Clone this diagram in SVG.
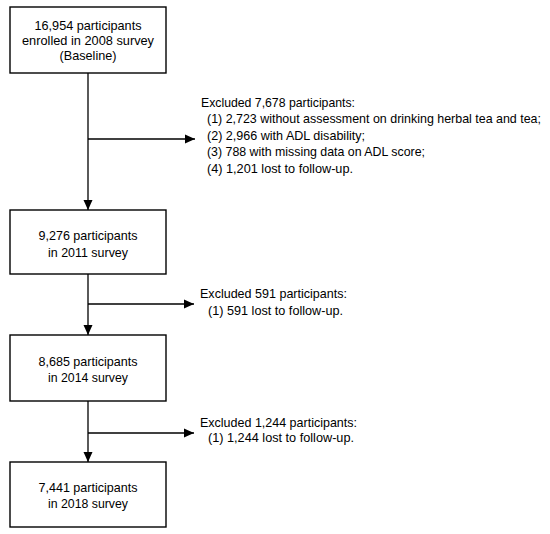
<svg xmlns="http://www.w3.org/2000/svg" width="550" height="534" viewBox="0 0 550 534">
<style>
.box{fill:#fff;stroke:#000;stroke-width:1.4}
.ln{fill:none;stroke:#000;stroke-width:1.3}
text{font-family:"Liberation Sans",Arial,sans-serif;font-size:13px;fill:#000}
.c{text-anchor:middle}
</style>
<defs>
<marker id="ah" viewBox="0 0 10 10" refX="10" refY="5" markerWidth="10" markerHeight="10" markerUnits="userSpaceOnUse" orient="auto">
<path d="M0,0.5 L10,5 L0,9.5 Z" fill="#000"/>
</marker>
</defs>
<rect width="550" height="534" fill="#fff"/>
<g id="connectors">
<line class="ln" x1="88" y1="73" x2="88" y2="210" marker-end="url(#ah)"/>
<line class="ln" x1="88" y1="139" x2="195" y2="139" marker-end="url(#ah)"/>
<line class="ln" x1="88" y1="274" x2="88" y2="335" marker-end="url(#ah)"/>
<line class="ln" x1="88" y1="304" x2="194" y2="304" marker-end="url(#ah)"/>
<line class="ln" x1="88" y1="401" x2="88" y2="462" marker-end="url(#ah)"/>
<line class="ln" x1="88" y1="433" x2="194" y2="433" marker-end="url(#ah)"/>
</g>
<g id="box1">
<rect class="box" x="10" y="7" width="156" height="66"/>
<text class="c" x="88" y="30" textLength="107" lengthAdjust="spacingAndGlyphs">16,954 participants</text>
<text class="c" x="88" y="45" textLength="132" lengthAdjust="spacingAndGlyphs">enrolled in 2008 survey</text>
<text class="c" x="88" y="60" textLength="57" lengthAdjust="spacingAndGlyphs">(Baseline)</text>
</g>
<g id="excl1">
<text x="201" y="107" textLength="154" lengthAdjust="spacingAndGlyphs">Excluded 7,678 participants:</text>
<text x="207" y="123" font-size="12.4" textLength="334" lengthAdjust="spacingAndGlyphs">(1) 2,723 without assessment on drinking herbal tea and tea;</text>
<text x="207" y="140" textLength="158" lengthAdjust="spacingAndGlyphs">(2) 2,966 with ADL disability;</text>
<text x="207" y="156" textLength="218" lengthAdjust="spacingAndGlyphs">(3) 788 with missing data on ADL score;</text>
<text x="207" y="173" textLength="146" lengthAdjust="spacingAndGlyphs">(4) 1,201 lost to follow-up.</text>
</g>
<g id="box2">
<rect class="box" x="10" y="210" width="156" height="64"/>
<text class="c" x="88" y="240" textLength="99" lengthAdjust="spacingAndGlyphs">9,276 participants</text>
<text class="c" x="88" y="257" textLength="80" lengthAdjust="spacingAndGlyphs">in 2011 survey</text>
</g>
<g id="excl2">
<text x="200" y="298" textLength="147" lengthAdjust="spacingAndGlyphs">Excluded 591 participants:</text>
<text x="208" y="315" textLength="135" lengthAdjust="spacingAndGlyphs">(1) 591 lost to follow-up.</text>
</g>
<g id="box3">
<rect class="box" x="10" y="335" width="156" height="66"/>
<text class="c" x="88" y="366" textLength="99" lengthAdjust="spacingAndGlyphs">8,685 participants</text>
<text class="c" x="88" y="382" textLength="80" lengthAdjust="spacingAndGlyphs">in 2014 survey</text>
</g>
<g id="excl3">
<text x="200" y="427" textLength="157" lengthAdjust="spacingAndGlyphs">Excluded 1,244 participants:</text>
<text x="208" y="442" textLength="146" lengthAdjust="spacingAndGlyphs">(1) 1,244 lost to follow-up.</text>
</g>
<g id="box4">
<rect class="box" x="10" y="462" width="156" height="65"/>
<text class="c" x="88" y="492" textLength="99" lengthAdjust="spacingAndGlyphs">7,441 participants</text>
<text class="c" x="88" y="508" textLength="80" lengthAdjust="spacingAndGlyphs">in 2018 survey</text>
</g>
</svg>
